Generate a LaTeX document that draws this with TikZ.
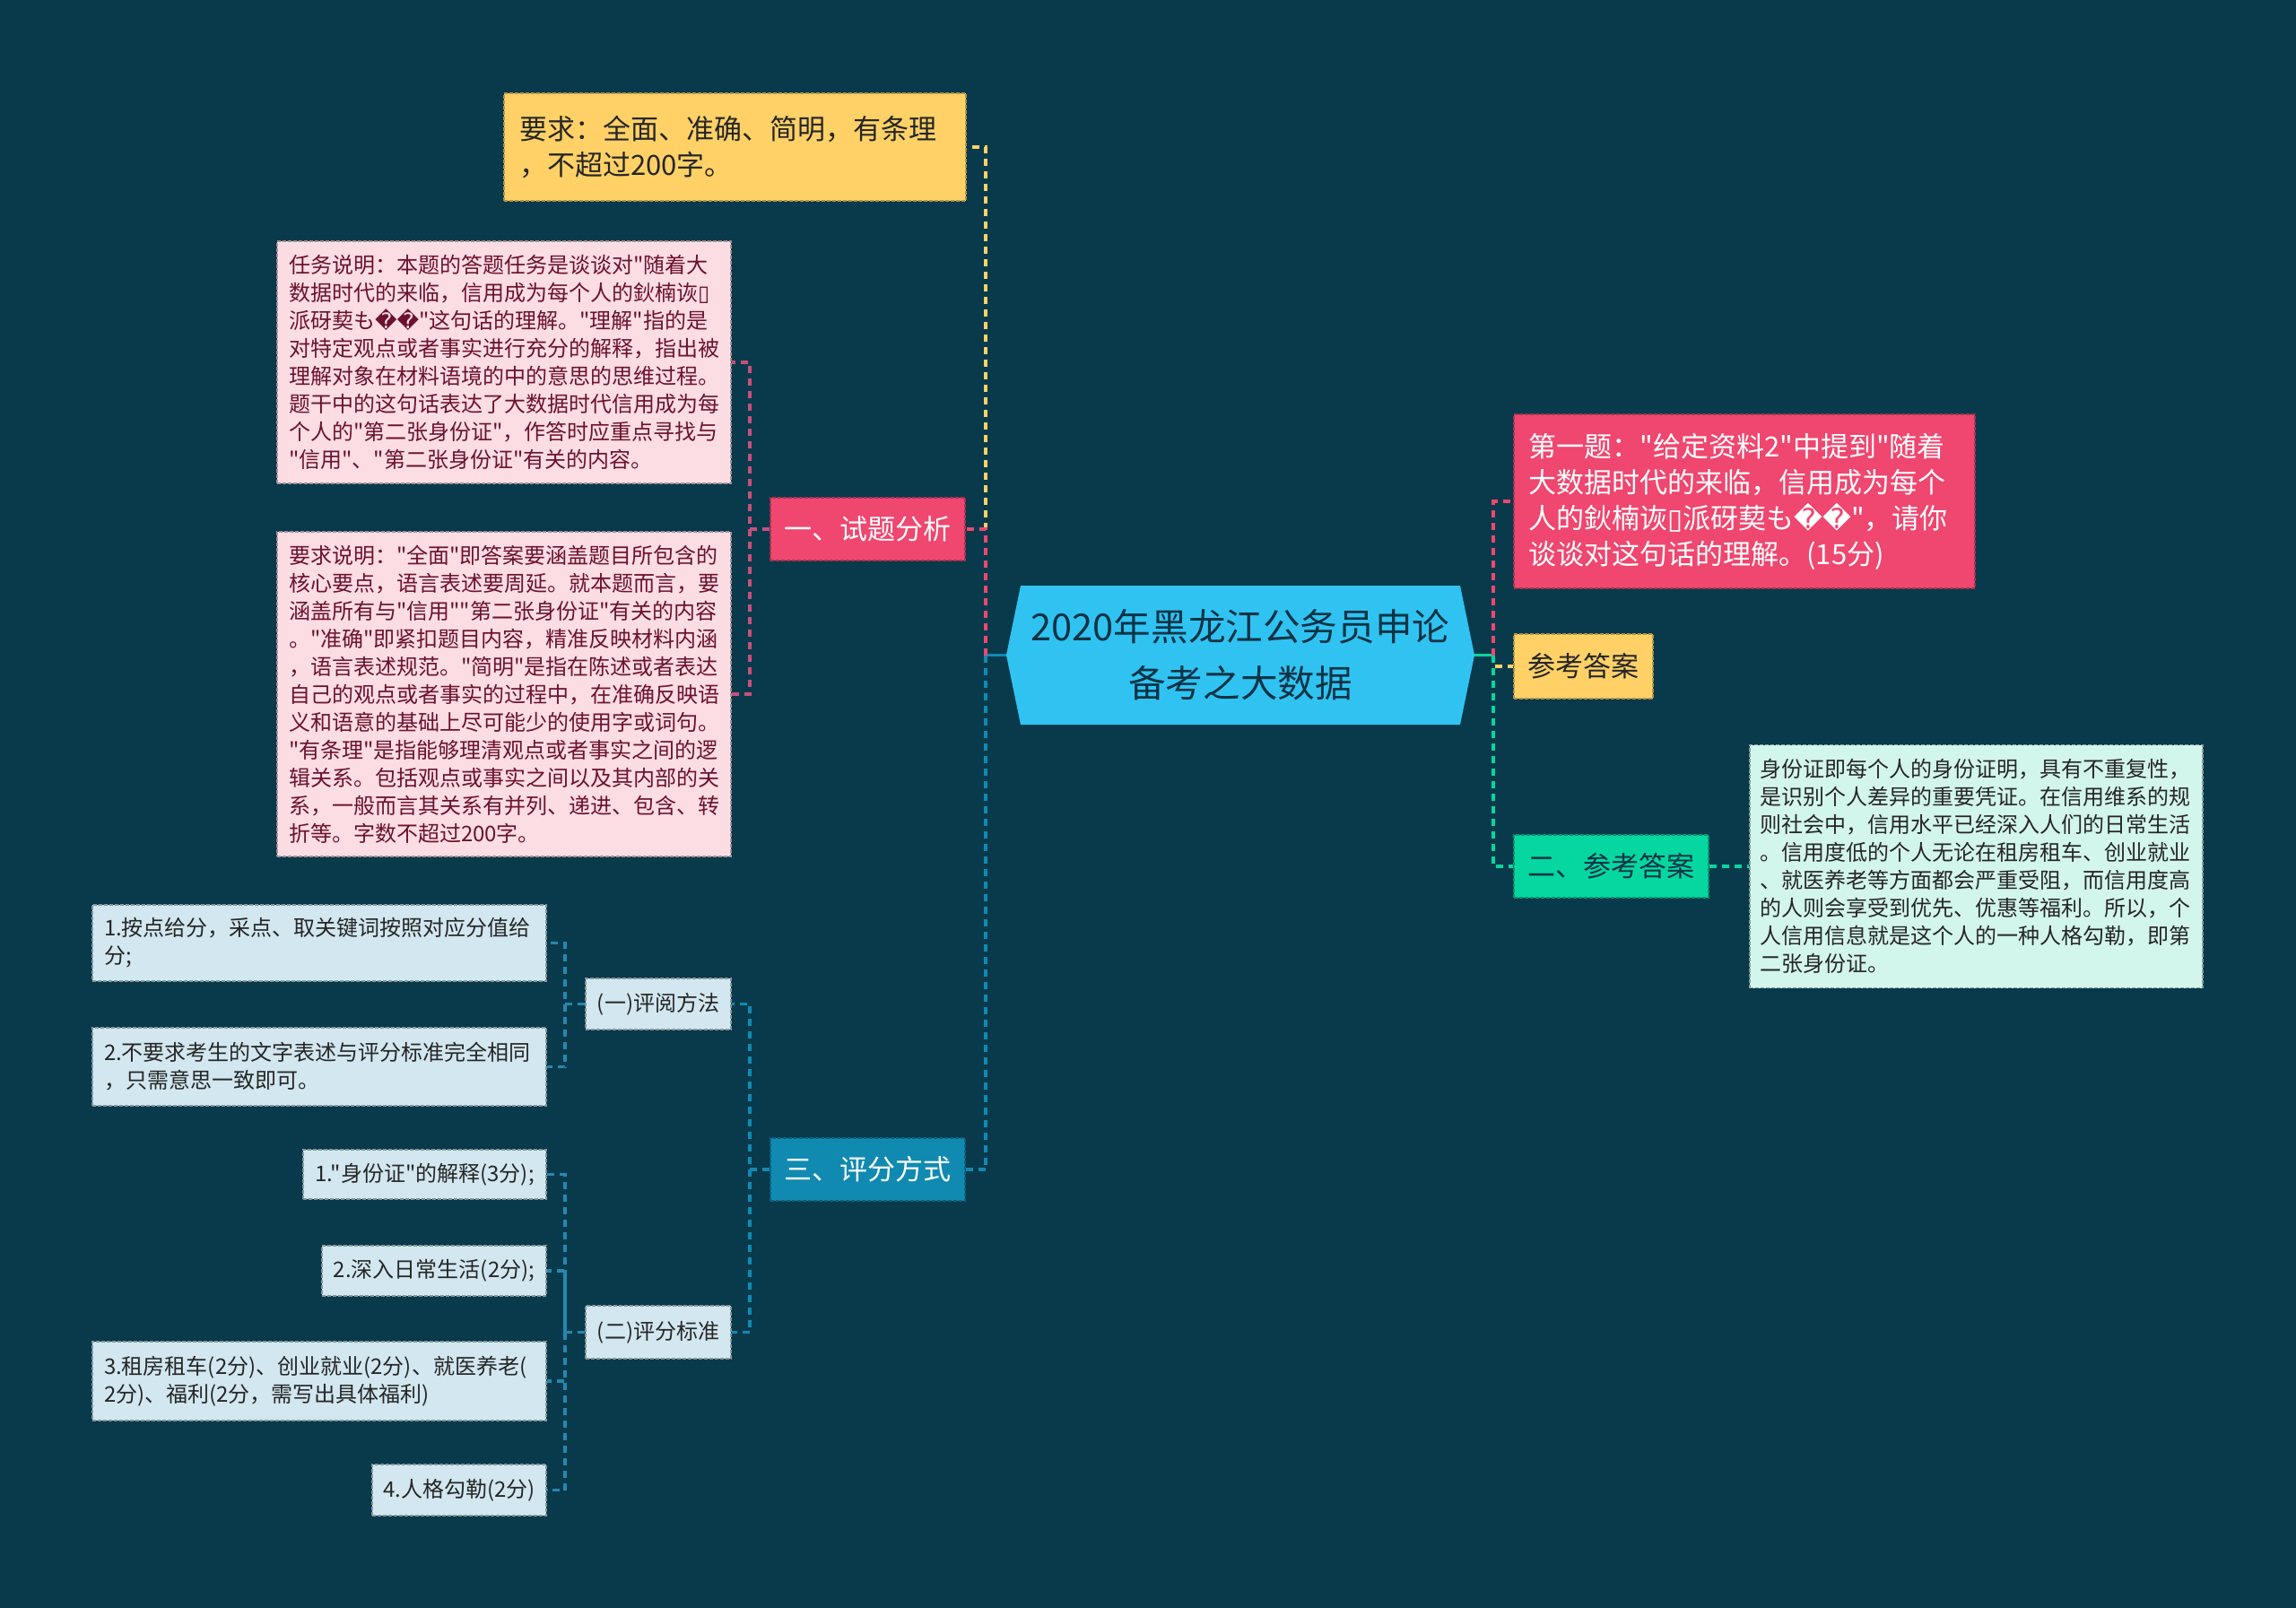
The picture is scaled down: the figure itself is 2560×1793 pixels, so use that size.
\documentclass[tikz,border=0pt]{standalone}
\usepackage{fontspec}
\newfontfamily\cjkf{Noto Sans CJK SC}
\newfontfamily\djv{DejaVu Sans}
\usetikzlibrary{calc}
\definecolor{bg}{HTML}{083A4C}
\definecolor{cyel}{HTML}{FFD166}
\definecolor{cred}{HTML}{EF476F}
\definecolor{cgrn}{HTML}{06D6A0}
\definecolor{cblu}{HTML}{118AB2}
\definecolor{ccen}{HTML}{30C3F2}
\definecolor{lpink}{HTML}{FCDDE3}
\definecolor{tpink}{HTML}{6B1230}
\definecolor{lmint}{HTML}{D2F5EC}
\definecolor{lblue}{HTML}{D2E7EF}
\definecolor{tdark}{HTML}{0A3345}
\definecolor{tgray}{HTML}{262626}
\definecolor{cpk}{HTML}{C9507D}
\definecolor{cbl2}{HTML}{2787AE}
\newcommand\medf{\cjkf\fontsize{15.5}{20}\selectfont}
\newcommand\smf{\cjkf\fontsize{12}{15.5}\selectfont}
\newcommand\ttlf{\cjkf\fontsize{20.8}{31.5}\selectfont}
\newcommand\moji{鈥楠诙{\djv ▯}派砑葜も{\djv ��}}
\tikzset{
  base/.style={anchor=center, inner ysep=0pt, dash pattern=on 2pt off 1pt, line width=0.7pt},
  multi/.style={base, align=left},
  single/.style={base, align=center, inner xsep=0pt},
  ybox/.style={fill=cyel, draw=cyel!70!black, text=tgray, font=\medf},
  rbox/.style={fill=cred, draw=cred!70!black, text=white, font=\medf},
  gbox/.style={fill=cgrn, draw=cgrn!70!black, text=tdark, font=\medf},
  bbox/.style={fill=cblu, draw=cblu!70!black, text=white, font=\medf},
  pbox/.style={fill=lpink, draw=lpink!65!black, text=tpink, font=\smf},
  mbox/.style={fill=lmint, draw=lmint!65!black, text=tgray, font=\smf},
  lbox/.style={fill=lblue, draw=lblue!65!black, text=tgray, font=\smf},
  cn/.style={line width=1.6pt, dash pattern=on 4pt off 3pt},
  stub/.style={line width=1.6pt}
}
\begin{document}
\begin{tikzpicture}[x=0.5pt,y=-0.5pt]
\fill[bg] (0,0) rectangle (2560,1793);
\useasboundingbox (0,0) rectangle (2560,1793);

% central topic
\fill[ccen] (1122,730.5) -- (1138,653) -- (1628,653) -- (1644,730.5) -- (1628,808) -- (1138,808) -- cycle;
\node[font=\ttlf, text=tdark, align=center, inner sep=0pt] (ctr) at (1383,730.5) {2020年黑龙江公务员申论\\备考之大数据};
\coordinate (cl) at (1122,730.5);
\coordinate (cr) at (1644,730.5);
\coordinate (tl) at (1099,730.5);
\coordinate (tr) at (1665,730.5);

% left main branches
\node[multi, ybox, text width=240.5pt, inner xsep=8.5pt, minimum height=60pt] (req) at (819.5,164) {要求：全面、准确、简明，有条理\\，不超过200字。};
\node[single, rbox, minimum width=108.5pt, minimum height=35pt] (ana) at (967.5,590) {一、试题分析};
\node[single, bbox, minimum width=108.5pt, minimum height=35pt] (sco) at (967.5,1304) {三、评分方式};

% pink detail boxes
\node[multi, pbox, text width=240pt, inner xsep=6.5pt, minimum height=135pt] (p1) at (562,404) {任务说明：本题的答题任务是谈谈对"随着大\\数据时代的来临，信用成为每个人的鈥楠诙{\djv ▯}\\派砑葜も{\djv ��}"这句话的理解。"理解"指的是\\对特定观点或者事实进行充分的解释，指出被\\理解对象在材料语境的中的意思的思维过程。\\题干中的这句话表达了大数据时代信用成为每\\个人的"第二张身份证"，作答时应重点寻找与\\"信用"、"第二张身份证"有关的内容。};
\node[multi, pbox, text width=240pt, inner xsep=6.5pt, minimum height=181pt] (p2) at (562,774) {要求说明："全面"即答案要涵盖题目所包含的\\核心要点，语言表述要周延。就本题而言，要\\涵盖所有与"信用""第二张身份证"有关的内容\\。"准确"即紧扣题目内容，精准反映材料内涵\\，语言表述规范。"简明"是指在陈述或者表达\\自己的观点或者事实的过程中，在准确反映语\\义和语意的基础上尽可能少的使用字或词句。\\"有条理"是指能够理清观点或者事实之间的逻\\辑关系。包括观点或事实之间以及其内部的关\\系，一般而言其关系有并列、递进、包含、转\\折等。字数不超过200字。};

% scoring sub-branches
\node[single, lbox, minimum width=81pt, minimum height=28.5pt] (m1) at (734,1119.5) {(一)评阅方法};
\node[single, lbox, minimum width=81pt, minimum height=29.5pt] (m2) at (734,1485.5) {(二)评分标准};
\node[multi, lbox, text width=240pt, inner xsep=6.5pt, minimum height=42.5pt] (l1) at (356,1051.5) {1.按点给分，采点、取关键词按照对应分值给\\分;};
\node[multi, lbox, text width=240pt, inner xsep=6.5pt, minimum height=43.5pt] (l2) at (356,1189.5) {2.不要求考生的文字表述与评分标准完全相同\\，只需意思一致即可。};
\node[single, lbox, minimum width=135.5pt, minimum height=27.5pt] (k1) at (473.5,1309.5) {1."身份证"的解释(3分);};
\node[single, lbox, minimum width=125pt, minimum height=28pt] (k2) at (484,1417) {2.深入日常生活(2分);};
\node[multi, lbox, text width=240pt, inner xsep=6.5pt, minimum height=44pt] (k3) at (356,1540) {3.租房租车(2分)、创业就业(2分)、就医养老(\\2分)、福利(2分，需写出具体福利)};
\node[single, lbox, minimum width=97pt, minimum height=28.5pt] (k4) at (512,1661.5) {4.人格勾勒(2分)};

% right side
\node[multi, rbox, text width=240.5pt, inner xsep=8.25pt, minimum height=97pt] (q1) at (1945,559) {第一题："给定资料2"中提到"随着\\大数据时代的来临，信用成为每个\\人的\moji"，请你\\谈谈对这句话的理解。(15分)};
\node[single, ybox, minimum width=77.5pt, minimum height=36pt] (ans) at (1765.5,743) {参考答案};
\node[single, gbox, minimum width=108.5pt, minimum height=35pt] (ans2) at (1796.5,966) {二、参考答案};
\node[multi, mbox, text width=241pt, inner xsep=5.75pt, minimum height=135.5pt] (mint) at (2203.5,966) {身份证即每个人的身份证明，具有不重复性，\\是识别个人差异的重要凭证。在信用维系的规\\则社会中，信用水平已经深入人们的日常生活\\。信用度低的个人无论在租房租车、创业就业\\、就医养老等方面都会严重受阻，而信用度高\\的人则会享受到优先、优惠等福利。所以，个\\人信用信息就是这个人的一种人格勾勒，即第\\二张身份证。};

% connectors: center to left branches
\draw[stub, cblu] (cl) -- (tl);
\draw[cn, cyel] (tl) |- (req.east);
\draw[cn, cred] (tl) |- (ana.east);
\draw[cn, cblu] (tl) |- (sco.east);

% center to right branches
\draw[stub, cgrn] (cr) -- (tr);
\draw[cn, cred] (tr) |- (q1.west);
\draw[cn, cyel] (tr) |- (ans.west);
\draw[cn, cgrn] (tr) |- (ans2.west);
\draw[cn, cgrn] (ans2.east) -- (mint.west);

% analysis sub-connectors
\coordinate (pt) at (836,590);
\draw[cn, cpk] (ana.west) -- (pt) |- (p1.east);
\draw[cn, cpk] (pt) |- (p2.east);

% scoring sub-connectors
\coordinate (bt) at (836,1304);
\draw[cn, cblu] (sco.west) -- (bt) |- (m1.east);
\draw[cn, cblu] (bt) |- (m2.east);

\coordinate (lt1) at (630,1119.5);
\draw[cn, cbl2] (m1.west) -- (lt1) |- (l1.east);
\draw[cn, cbl2] (lt1) |- (l2.east);

\coordinate (lt2) at (630,1485.5);
\draw[cn, cbl2] (m2.west) -- (lt2) |- (k1.east);
\draw[cn, cbl2] (lt2) |- (k2.east);
\draw[cn, cbl2] (lt2) |- (k3.east);
\draw[cn, cbl2] (lt2) |- (k4.east);
\end{tikzpicture}
\end{document}
